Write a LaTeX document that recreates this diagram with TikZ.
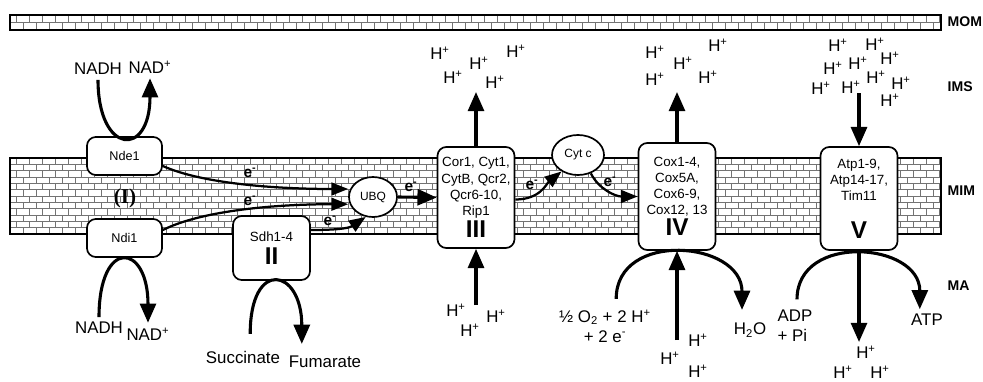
\documentclass[tikz,border=0pt]{standalone}
\usepackage{fontspec}
\setmainfont{Liberation Sans}
\newfontfamily\romanbold{Liberation Serif}
\usetikzlibrary{positioning,arrows.meta,shapes.geometric}

\begin{document}
\begin{tikzpicture}[x=0.025cm, y=-0.025cm, >={Triangle[length=0.48cm,width=0.4cm]},
  every node/.style={font=\fontsize{12}{14}\selectfont}]
\tikzstyle{cplx}=[draw, line width=1.2pt, fill=white, rounded corners=0.22cm, align=center, inner sep=0pt, font=\fontsize{9.5}{11.4}\selectfont]
\tikzstyle{ndh}=[cplx, minimum width=1.875cm, minimum height=0.95cm, font=\fontsize{9}{10}\selectfont]
\tikzstyle{carrier}=[draw, line width=1.2pt, fill=white, ellipse, inner sep=0pt, font=\fontsize{8.5}{10}\selectfont]
\tikzstyle{flow}=[->, line width=2.2pt]
\tikzstyle{eflow}=[-{Triangle[length=0.42cm,width=0.32cm]}, line width=1.6pt]
\tikzstyle{elab}=[inner sep=1pt, font=\bfseries\fontsize{11}{12}\selectfont]
\tikzstyle{hion}=[inner sep=1pt]
\tikzstyle{side}=[anchor=west, inner sep=1pt, font=\bfseries\fontsize{10}{12}\selectfont]
\tikzstyle{mortar}=[black!55, line width=0.45pt]
\tikzstyle{wall}=[line width=1.6pt]
\useasboundingbox (0,0) rectangle (983,381);

% membranes (outer, inner)
\foreach \ya/\yb/\nr in {15/30/2, 158/234/12} {
  \begin{scope}
    \clip (10,\ya) rectangle (941,\yb);
    \pgfmathsetmacro\rh{(\yb-\ya)/\nr}
    \foreach \r in {1,...,\nr} {
      \pgfmathsetmacro\yr{\ya+(\r-1)*\rh}
      \pgfmathsetmacro\off{6.5*mod(\r,2)}
      \draw[mortar] (10,\yr) -- (941,\yr);
      \draw[mortar] foreach \c in {0,...,72} {(10+\off+13*\c,\yr) -- ++(0,\rh)};
    }
  \end{scope}
  \draw[wall] (10,\ya) rectangle (941,\yb);
}
\node[side] (mom) at (946,22) {MOM};
\node[side] (ims) at (946,87) {IMS};
\node[side] (mim) at (946,191) {MIM};
\node[side] (ma) at (946,286) {MA};

% complexes
\node[ndh] (nde1) at (124.5,156) {Nde1};
\node[ndh] (ndi1) at (124.5,238) {Ndi1};
\node[font=\romanbold\bfseries\fontsize{15}{16}\selectfont] (c1) at (125,198) {(I)};
\node[cplx, minimum width=1.925cm, minimum height=1.6cm] (c2) at (271.5,248) {Sdh1-4\\[3pt]\textbf{\LARGE II}};
\node[carrier, minimum width=1.2cm, minimum height=1cm] (ubq) at (373,197) {UBQ};
\node[cplx, minimum width=1.925cm, minimum height=2.525cm] (c3) at (476,197.5) {Cor1, Cyt1,\\CytB, Qcr2,\\Qcr6-10,\\Rip1\\[1pt]\textbf{\LARGE III}};
\node[carrier, minimum width=1.3cm, minimum height=1cm] (cytc) at (578,155) {Cyt c};
\node[cplx, minimum width=1.925cm, minimum height=2.675cm] (c4) at (677,196.5) {Cox1-4,\\Cox5A,\\Cox6-9,\\Cox12, 13\\[1pt]\textbf{\LARGE IV}};
\node[cplx, minimum width=1.925cm, minimum height=2.575cm] (c5) at (859,198.5) {Atp1-9,\\Atp14-17,\\Tim11\\[14pt]\textbf{\LARGE V}};

% substrates and products
\node (nadhA) at (98,69) {NADH};
\node (nadA) at (150,67) {NAD\textsuperscript{+}};
\node (nadhB) at (99,328) {NADH};
\node (nadB) at (148,334) {NAD\textsuperscript{+}};
\node (succ) at (243,357) {Succinate};
\node (fum) at (325,362) {Fumarate};
\node[align=center] (o2) at (605,326) {½ O\textsubscript{2} + 2 H\textsuperscript{+}\\+ 2 e\textsuperscript{-}};
\node (h2o) at (750,330) {H\textsubscript{2}O};
\node[align=left] (adp) at (795,326) {ADP\\+ Pi};
\node (atp) at (927,320) {ATP};

% protons
\foreach \hx/\hy [count=\i] in {440/53,516/51,479/63,453/77,495/82}
  \node[hion] (hiiiA\i) at (\hx,\hy) {H\textsuperscript{+}};
\foreach \hx/\hy [count=\i] in {456/310,496/316,470/330}
  \node[hion] (hiiiB\i) at (\hx,\hy) {H\textsuperscript{+}};
\foreach \hx/\hy [count=\i] in {655/52,718/45,683/63,655/79,708/77}
  \node[hion] (hivA\i) at (\hx,\hy) {H\textsuperscript{+}};
\foreach \hx/\hy [count=\i] in {698/340,670/358,698/371}
  \node[hion] (hivB\i) at (\hx,\hy) {H\textsuperscript{+}};
\foreach \hx/\hy [count=\i] in {838/45,875/44,890/58,833/68,858/63,876/77,901/83,821/88,851/87,890/100}
  \node[hion] (hvA\i) at (\hx,\hy) {H\textsuperscript{+}};
\foreach \hx/\hy [count=\i] in {866/352,843/372,880/372}
  \node[hion] (hvB\i) at (\hx,\hy) {H\textsuperscript{+}};

\coordinate (iiitop) at (476,92);
\coordinate (iiibot) at (476,305);
\coordinate (ivtop) at (677,92);
\coordinate (ivbot) at (677,340);
\coordinate (vtop) at (859,93);
\coordinate (vbot) at (859,342);

% proton flow
\draw[flow] (c3.north) -- (iiitop);
\draw[flow] (iiibot) -- (c3.south);
\draw[flow] (c4.north) -- (ivtop);
\draw[flow] (ivbot) -- (c4.south);
\draw[flow] (vtop) -- (c5.north);
\draw[flow] (c5.south) -- (vbot);

% reactions
\draw[flow] (nadhA.south) .. controls +(0,75) and +(0,80) .. (nadA.south);
\draw[flow] (nadhB.north) .. controls +(0,-80) and +(0,-80) .. (nadB.north);
\draw[flow] ([xshift=0.18cm,yshift=0.3cm]succ.north) .. controls +(0,-76) and +(0,-76) .. ([xshift=-0.58cm,yshift=0.18cm]fum.north);
\draw[flow] ([xshift=0.28cm,yshift=0.15cm]o2.north) .. controls +(0,-69) and +(0,-69) .. ([xshift=-0.2cm,yshift=0.2cm]h2o.north);
\draw[flow] ([xshift=0.05cm,yshift=0.15cm]adp.north) .. controls +(0,-67) and +(0,-67) .. ([xshift=-0.18cm]atp.north);

% electron transfer
\draw[eflow] ([yshift=-0.25cm]nde1.east) .. controls +(40,18) and +(-70,0) .. ([yshift=0.2cm]ubq.west);
\draw[eflow] ([yshift=0.2cm]ndi1.east) .. controls +(40,-20) and +(-70,0) .. ([yshift=-0.18cm]ubq.west);
\draw[eflow] ([yshift=0.45cm]c2.east) .. controls +(35,0) and +(-15,10) .. (ubq.250);
\draw[flow] (ubq.east) -- (c3.west);
\draw[eflow] ([yshift=-0.05cm]c3.east) .. controls +(25,0) and +(-15,12) .. (cytc.225);
\draw[eflow] (cytc.-55) .. controls +(8,16) and +(-22,0) .. (c4.west);
\node[elab] (ea) at (250,173) {e\textsuperscript{-}};
\node[elab] (eb) at (250,201) {e\textsuperscript{-}};
\node[elab] (ec) at (330,221) {e\textsuperscript{-}};
\node[elab] (ed) at (411,187) {e\textsuperscript{-}};
\node[elab] (ee) at (532,185) {e\textsuperscript{-}};
\node[elab] (ef) at (610,182) {e\textsuperscript{-}};
\end{tikzpicture}
\end{document}
